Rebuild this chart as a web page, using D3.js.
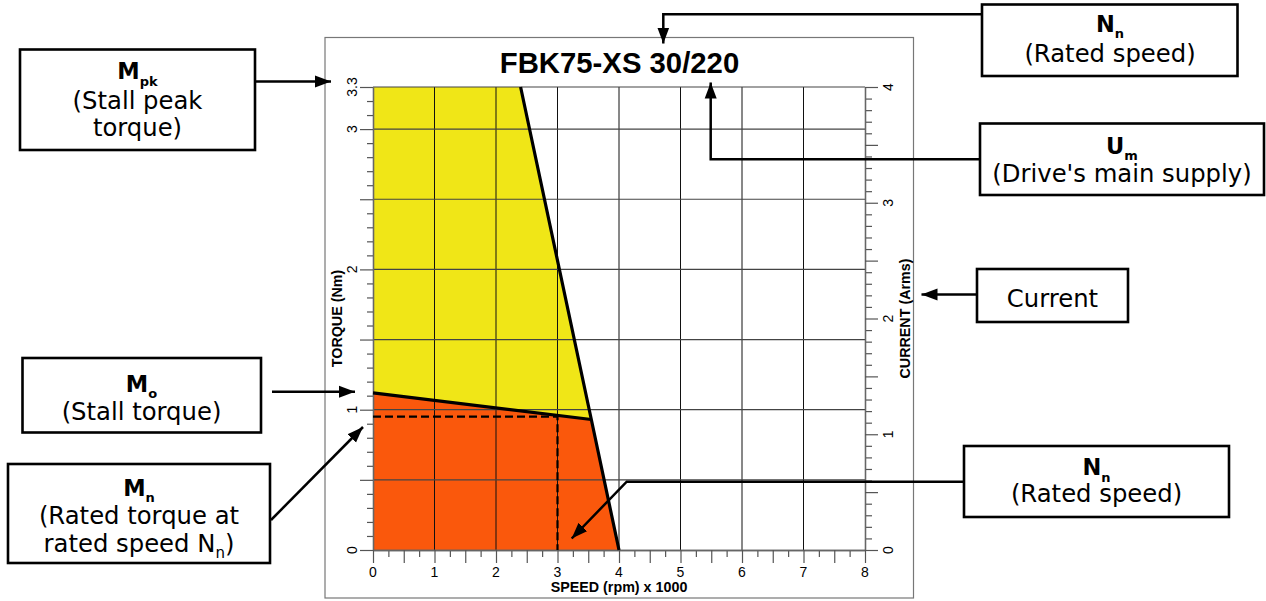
<!DOCTYPE html>
<html><head><meta charset="utf-8">
<script src="https://cdn.jsdelivr.net/npm/d3@7"></script>
<style>
html,body{margin:0;padding:0;background:#fff;}
svg{display:block;}
</style></head>
<body>
<svg id="chart" width="1266" height="601"></svg>
<script>
// ---------- data ----------
const title = "FBK75-XS 30/220";
const speedDomain = [0, 8];          // x 1000 rpm
const torqueDomain = [0, 3.3];       // Nm
const currentDomain = [0, 4];        // Arms
const speedTicks = [0,1,2,3,4,5,6,7,8];
const torqueTickLabels = [0,1,2,3,3.3];
const torqueMajor = [0,0.5,1,1.5,2,2.5,3,3.3];
const currentTickLabels = [0,1,2,3,4];
// peak (intermittent) torque limit: [speed, torque]
const peakCurve = [[0,3.3],[2.40,3.3],[3.55,0.93],[4.0,0]];
// continuous torque limit: [speed, torque]
const contCurve = [[0,1.12],[3.55,0.93]];
// rated point
const ratedSpeed = 3.0, ratedTorque = 0.95;

// ---------- layout ----------
const svg = d3.select("#chart");
const x = d3.scaleLinear().domain(speedDomain).range([373,865]);
const yT = d3.scaleLinear().domain(torqueDomain).range([550,87]);
const yC = d3.scaleLinear().domain(currentDomain).range([550,87]);
const AX = "Liberation Sans, Arial, sans-serif";
const BX = "DejaVu Sans, Verdana, sans-serif";

// frame
svg.append("rect").attr("x",325).attr("y",37.5).attr("width",588.5).attr("height",560.5)
  .attr("fill","none").attr("stroke","#777").attr("stroke-width",1.2);

// title
svg.append("text").attr("x",619.5).attr("y",72.5).attr("text-anchor","middle")
  .attr("font-family",AX).attr("font-weight","bold").attr("font-size",29.3).text(title);

// regions
const yellowPoly = [peakCurve[0], peakCurve[1], peakCurve[2], contCurve[0]];
const orangePoly = [[0,0], contCurve[0], contCurve[1], peakCurve[3]];
const area = d3.line().x(d=>x(d[0])).y(d=>yT(d[1]));
svg.append("path").attr("d", area(yellowPoly)+"Z").attr("fill","#F0E617");
svg.append("path").attr("d", area(orangePoly)+"Z").attr("fill","#FA580C");

// grid
const grid = svg.append("g");
grid.selectAll("line.v").data(d3.range(1,8)).join("line")
  .attr("x1",d=>x(d)).attr("x2",d=>x(d)).attr("y1",yT(3.3)).attr("y2",yT(0))
  .attr("stroke","#111").attr("stroke-width",1);
grid.selectAll("line.h").data(torqueMajor.filter(d=>d>0)).join("line")
  .attr("x1",x(0)).attr("x2",x(8)).attr("y1",d=>yT(d)).attr("y2",d=>yT(d))
  .attr("stroke","#444").attr("stroke-width",1.2);

// axes helper
function styleAxis(g){
  g.select(".domain").attr("stroke","#666").attr("stroke-width",1.3);
  g.selectAll(".tick line").attr("stroke","#555").attr("stroke-width",1.2);
  g.selectAll("text").remove();
}
// left axis
const minorT = d3.range(0,34).map(i=>+(i*0.1).toFixed(1)).filter(d=>torqueMajor.indexOf(d)<0);
svg.append("g").attr("transform",`translate(${x(0)},0)`)
  .call(d3.axisLeft(yT).tickValues(minorT).tickSize(6).tickSizeOuter(0)).call(styleAxis);
svg.append("g").attr("transform",`translate(${x(0)},0)`)
  .call(d3.axisLeft(yT).tickValues(torqueMajor).tickSize(13).tickSizeOuter(0)).call(styleAxis);
svg.append("g").selectAll("text").data(torqueTickLabels).join("text")
  .attr("transform",d=>`translate(357,${yT(d)}) rotate(-90)`).attr("text-anchor","middle")
  .attr("font-family",AX).attr("font-size",14).text(d=>d);

// bottom axis
const q = d3.range(0,33).map(i=>i*0.25);
svg.append("g").attr("transform",`translate(0,${yT(0)})`)
  .call(d3.axisBottom(x).tickValues(q.filter(d=>d%0.5!==0)).tickSize(7).tickSizeOuter(0)).call(styleAxis);
svg.append("g").attr("transform",`translate(0,${yT(0)})`)
  .call(d3.axisBottom(x).tickValues(q.filter(d=>d%0.5===0)).tickSize(13).tickSizeOuter(0)).call(styleAxis);
svg.append("g").selectAll("text").data(speedTicks).join("text")
  .attr("x",d=>x(d)).attr("y",577).attr("text-anchor","middle")
  .attr("font-family",AX).attr("font-size",14).text(d=>d);

// right axis
const cAll = d3.range(0,41).map(i=>+(i*0.1).toFixed(1));
svg.append("g").attr("transform",`translate(${x(8)},0)`)
  .call(d3.axisRight(yC).tickValues(cAll.filter(d=>Math.round(d*10)%5!==0)).tickSize(7).tickSizeOuter(0)).call(styleAxis);
svg.append("g").attr("transform",`translate(${x(8)},0)`)
  .call(d3.axisRight(yC).tickValues(cAll.filter(d=>Math.round(d*10)%5===0)).tickSize(13).tickSizeOuter(0)).call(styleAxis);
svg.append("g").selectAll("text").data(currentTickLabels).join("text")
  .attr("transform",d=>`translate(893,${yC(d)}) rotate(-90)`).attr("text-anchor","middle")
  .attr("font-family",AX).attr("font-size",14).text(d=>d);

// axis titles
svg.append("text").attr("transform",`translate(342,${(yT(0)+yT(3.3))/2}) rotate(-90)`)
  .attr("text-anchor","middle").attr("font-family",AX).attr("font-weight","bold").attr("font-size",14.3)
  .text("TORQUE (Nm)");
svg.append("text").attr("transform",`translate(909.5,${(yT(0)+yT(3.3))/2}) rotate(-90)`)
  .attr("text-anchor","middle").attr("font-family",AX).attr("font-weight","bold").attr("font-size",14.3)
  .text("CURRENT (Arms)");
svg.append("text").attr("x",(x(0)+x(8))/2).attr("y",592).attr("text-anchor","middle")
  .attr("font-family",AX).attr("font-weight","bold").attr("font-size",14.3)
  .text("SPEED (rpm) x 1000");

// curves
svg.append("path").attr("d", area(peakCurve.slice(1))).attr("fill","none")
  .attr("stroke","#000").attr("stroke-width",3.2).attr("stroke-linejoin","round");
svg.append("path").attr("d", area(contCurve)).attr("fill","none")
  .attr("stroke","#000").attr("stroke-width",3.2);
svg.append("path").attr("d", area([[0,ratedTorque],[ratedSpeed,ratedTorque],[ratedSpeed,0]]))
  .attr("fill","none").attr("stroke","#000").attr("stroke-width",2.2).attr("stroke-dasharray","8,4");

// ---------- annotations ----------
const defs = svg.append("defs");
defs.append("marker").attr("id","ah").attr("markerUnits","userSpaceOnUse")
  .attr("markerWidth",18).attr("markerHeight",14).attr("viewBox","0 -7 18 14")
  .attr("refX",16).attr("refY",0).attr("orient","auto")
  .append("path").attr("d","M0,-6L16,0L0,6Z").attr("fill","#000");

const boxes = [
  {r:[20,49.5,235,100.5], cx:137.5, lines:[{y:79,m:"M",s:"pk"},{y:108.5,t:"(Stall peak"},{y:136,t:"torque)"}]},
  {r:[22.5,358,238.5,74.5], cx:141.5, lines:[{y:391.5,m:"M",s:"o"},{y:420,t:"(Stall torque)"}]},
  {r:[8,464,262,99], cx:139, lines:[{y:495.5,m:"M",s:"n"},{y:523.5,t:"(Rated torque at"},{y:552,t:"rated speed N",sub:"n",after:")"}]},
  {r:[982,4.5,255.5,71.5], cx:1110, lines:[{y:31.5,m:"N",s:"n"},{y:61.5,t:"(Rated speed)"}]},
  {r:[980,123.5,284,71.5], cx:1122, lines:[{y:153.5,m:"U",s:"m"},{y:182,t:"(Drive's main supply)"}]},
  {r:[977,269,151,53], cx:1052.5, lines:[{y:307,t:"Current"}]},
  {r:[964,446,265,71], cx:1096.5, lines:[{y:475,m:"N",s:"n"},{y:502,t:"(Rated speed)"}]}
];
const arrows = [
  [[255,81.5],[331,81.5]],
  [[272,391.7],[355,391.7]],
  [[271,520],[363,427]],
  [[982,14.3],[663.3,14.3],[663.3,43.5]],
  [[980,159.3],[710.7,159.3],[710.7,82.5]],
  [[977,294.5],[921.5,294.5]],
  [[964,481.7],[626.7,481.7],[571.7,538.5]]
];
const ag = svg.append("g");
ag.selectAll("path").data(arrows).join("path")
  .attr("d",d=>d3.line()(d)).attr("fill","none").attr("stroke","#000")
  .attr("stroke-width",2.5).attr("marker-end","url(#ah)");

const bg = svg.append("g");
boxes.forEach(b=>{
  bg.append("rect").attr("x",b.r[0]).attr("y",b.r[1]).attr("width",b.r[2]).attr("height",b.r[3])
    .attr("fill","#fff").attr("stroke","#000").attr("stroke-width",2.6);
  b.lines.forEach(l=>{
    const t = bg.append("text").attr("x",b.cx).attr("y",l.y).attr("text-anchor","middle")
      .attr("font-family",BX).attr("fill","#000");
    if(l.m){
      t.attr("font-weight","bold").attr("font-size",22.5);
      t.append("tspan").text(l.m);
      t.append("tspan").attr("dy",6.5).attr("font-size",13).text(l.s);
    } else {
      t.attr("font-size",24.3);
      t.append("tspan").text(l.t);
      if(l.sub){
        t.append("tspan").attr("dy",6).attr("font-size",15).text(l.sub);
        t.append("tspan").attr("dy",-6).text(l.after);
      }
    }
  });
});
</script>
</body></html>
